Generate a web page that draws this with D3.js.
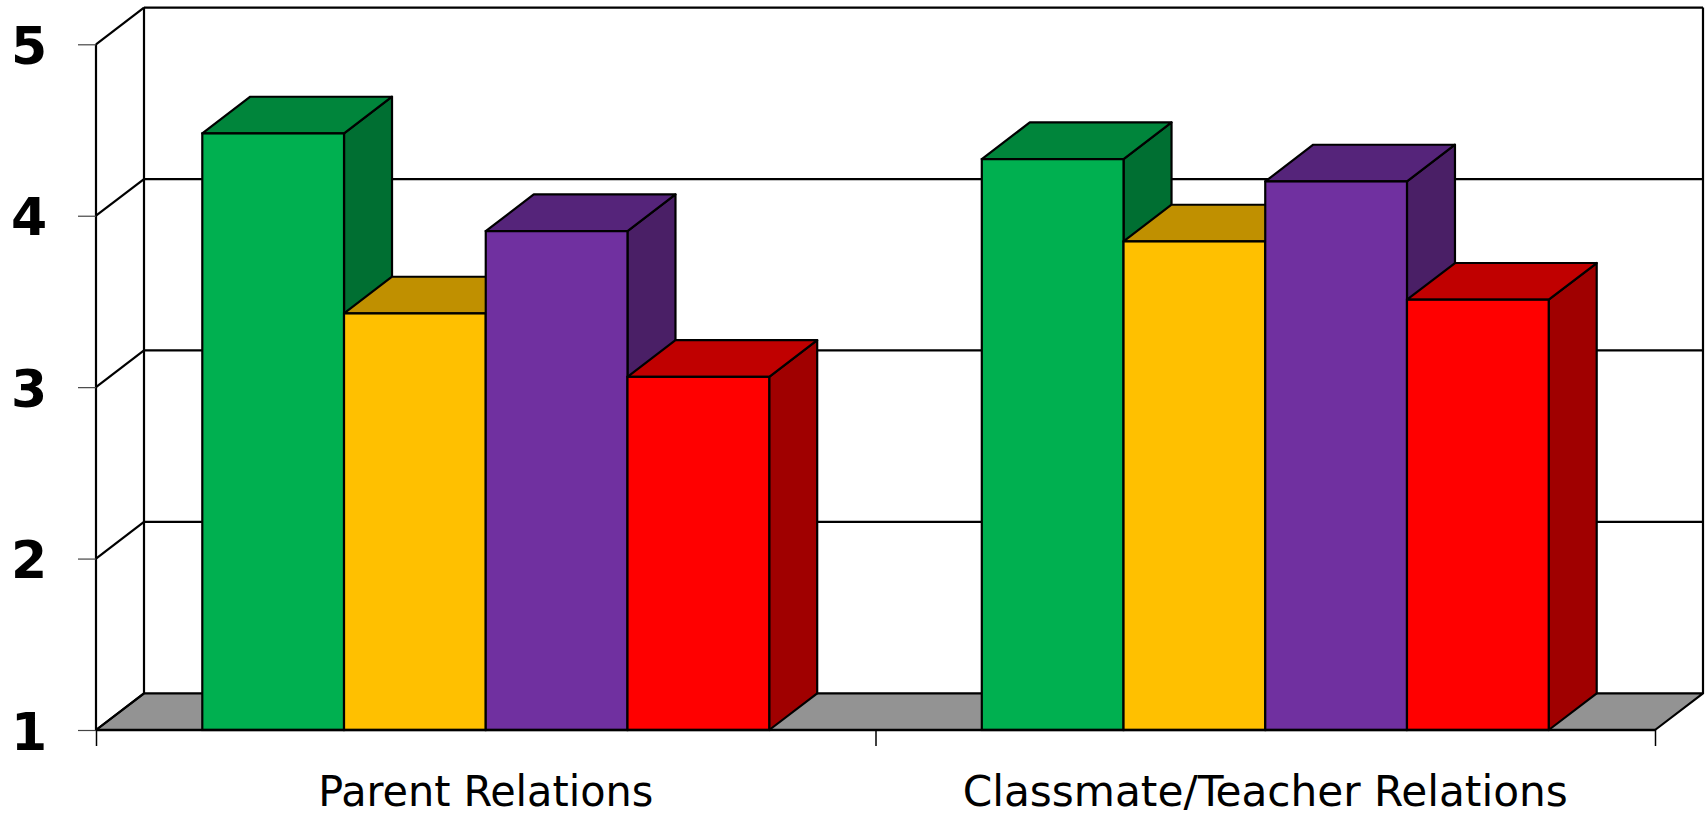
<!DOCTYPE html>
<html>
<head>
<meta charset="utf-8">
<script src="https://cdn.jsdelivr.net/npm/d3@7"></script>
<style>
  html, body { margin: 0; padding: 0; background: #fff; }
  svg { display: block; }
</style>
</head>
<body>
<svg id="chart" width="1705" height="816"></svg>
<script>
// ---- data ----
const categories = ["Parent Relations", "Classmate/Teacher Relations"];
const seriesNames = ["Series 1", "Series 2", "Series 3", "Series 4"];
const series1 = [4.48, 4.33];
const series2 = [3.43, 3.85];
const series3 = [3.91, 4.20];
const series4 = [3.06, 3.51];
const yTicks = [1, 2, 3, 4, 5];
const labelWidths = [335, 605];

// ---- styles ----
const frontColors = ["#00B050", "#FFC000", "#7030A0", "#FF0000"];
const topColors   = ["#00853B", "#C09000", "#55247A", "#C00000"];
const sideColors  = ["#006F32", "#A07800", "#4A1F66", "#A00000"];

const svg = d3.select("#chart");
const X0 = 96, X1 = 1655, Y0 = 730, Y1 = 44.3;
const DX = 48, DY = 36.7;

const y = d3.scaleLinear().domain([1, 5]).range([Y0, Y1]);
const xCat = d3.scaleBand().domain(categories).range([X0, X1]).padding(0);
const xSer = d3.scaleBand().domain(seriesNames).range([0, xCat.bandwidth()])
  .paddingInner(0).paddingOuter(0.75);

const values = [series1, series2, series3, series4];

// floor
svg.append("path")
  .attr("d", `M${X0},${Y0}L${X1},${Y0}L${X1 + DX},${Y0 - DY}L${X0 + DX},${Y0 - DY}Z`)
  .attr("fill", "#939393").attr("stroke", "#000").attr("stroke-width", 2.2).attr("stroke-linejoin", "round");

// back wall gridlines
const grid = svg.append("g");
yTicks.filter(t => t > 1).forEach(t => {
  grid.append("line")
    .attr("x1", X0 + DX).attr("x2", X1 + DX)
    .attr("y1", y(t) - DY).attr("y2", y(t) - DY)
    .attr("stroke", "#000").attr("stroke-width", 2.2);
});
grid.append("line").attr("x1", X0 + DX).attr("x2", X0 + DX)
  .attr("y1", y(5) - DY).attr("y2", Y0 - DY).attr("stroke", "#000").attr("stroke-width", 2.2);
grid.append("line").attr("x1", X1 + DX).attr("x2", X1 + DX)
  .attr("y1", y(5) - DY).attr("y2", Y0 - DY).attr("stroke", "#000").attr("stroke-width", 2.2);
yTicks.forEach(t => {
  grid.append("line")
    .attr("x1", X0).attr("y1", y(t))
    .attr("x2", X0 + DX).attr("y2", y(t) - DY)
    .attr("stroke", "#000").attr("stroke-width", 2.2);
});
grid.append("line").attr("x1", X0).attr("x2", X0).attr("y1", y(5)).attr("y2", Y0)
  .attr("stroke", "#000").attr("stroke-width", 2.2);

// y axis ticks and labels
const yAxis = d3.axisLeft(y).tickValues(yTicks).tickSize(18).tickFormat(d3.format("d"));
const yg = svg.append("g").attr("transform", `translate(${X0},0)`).call(yAxis);
yg.select(".domain").remove();
yg.selectAll(".tick line").attr("stroke", "#444").attr("stroke-width", 1.2);
yg.selectAll(".tick text")
  .attr("x", 29 - X0).attr("dy", null).attr("y", 19)
  .attr("text-anchor", "middle")
  .attr("font-family", "'DejaVu Sans', Verdana, sans-serif")
  .attr("font-weight", "bold").attr("font-size", 52).attr("fill", "#000");

// bars
categories.forEach((cat, ci) => {
  seriesNames.forEach((s, si) => {
    const v = values[si][ci];
    const xl = xCat(cat) + xSer(s);
    const xr = xl + xSer.bandwidth();
    const yt = y(v), yb = y(1);
    const g = svg.append("g");
    g.append("path")
      .attr("d", `M${xr},${yt}L${xr + DX},${yt - DY}L${xr + DX},${yb - DY}L${xr},${yb}Z`)
      .attr("fill", sideColors[si]).attr("stroke", "#000").attr("stroke-width", 2.2).attr("stroke-linejoin", "round");
    g.append("path")
      .attr("d", `M${xl},${yt}L${xl + DX},${yt - DY}L${xr + DX},${yt - DY}L${xr},${yt}Z`)
      .attr("fill", topColors[si]).attr("stroke", "#000").attr("stroke-width", 2.2).attr("stroke-linejoin", "round");
    g.append("rect")
      .attr("x", xl).attr("y", yt).attr("width", xr - xl).attr("height", yb - yt)
      .attr("fill", frontColors[si]).attr("stroke", "#000").attr("stroke-width", 2.2);
  });
});

// bottom axis
const xAxis = d3.axisBottom(d3.scaleLinear().domain([0, 2]).range([X0, X1]))
  .tickValues([0, 1, 2]).tickSize(16).tickFormat("");
const xg = svg.append("g").attr("transform", `translate(0,${Y0})`).call(xAxis);
xg.select(".domain").remove();
xg.selectAll(".tick line").attr("stroke", "#000").attr("stroke-width", 1.5);
svg.append("line").attr("x1", X0).attr("x2", X1).attr("y1", Y0).attr("y2", Y0)
  .attr("stroke", "#000").attr("stroke-width", 2.5);

// category labels
categories.forEach((cat, ci) => {
  svg.append("text")
    .attr("x", xCat(cat) + xCat.bandwidth() / 2)
    .attr("y", 806)
    .attr("text-anchor", "middle")
    .attr("font-family", "Tahoma, 'DejaVu Sans Condensed', 'DejaVu Sans', sans-serif")
    .attr("font-size", 43)
    .attr("textLength", labelWidths[ci])
    .attr("lengthAdjust", "spacingAndGlyphs")
    .attr("fill", "#000")
    .text(cat);
});
</script>
</body>
</html>
